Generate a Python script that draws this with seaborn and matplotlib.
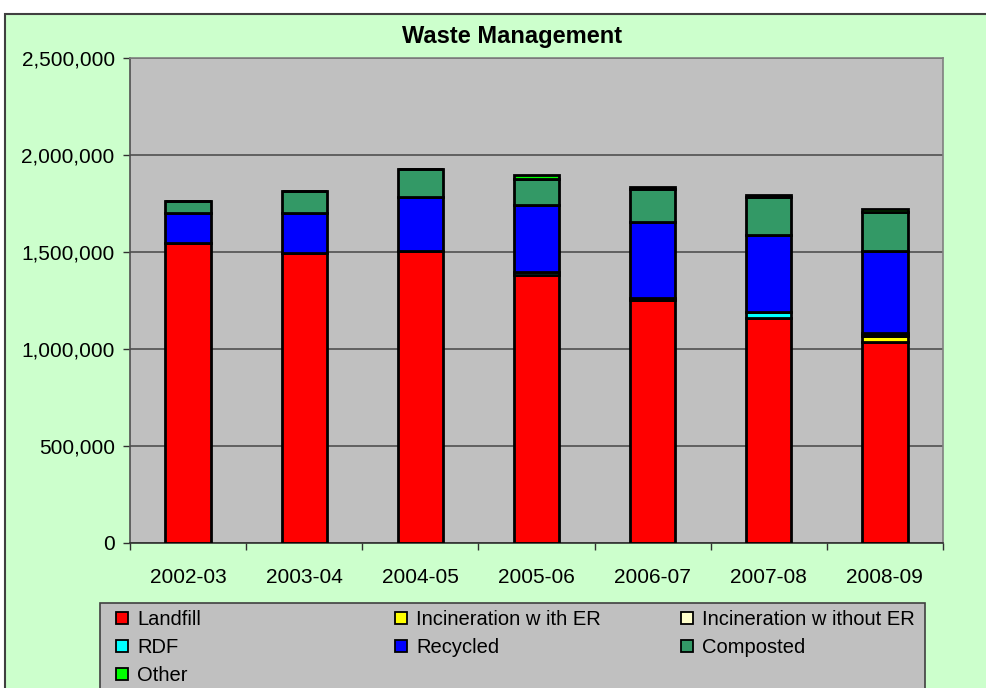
import numpy as np
import pandas as pd
import matplotlib
matplotlib.use('Agg')
import matplotlib.pyplot as plt
import matplotlib.ticker as mticker
from matplotlib.patches import Rectangle
import seaborn as sns

# values (tonnes)
years = ['2002-03', '2003-04', '2004-05', '2005-06', '2006-07', '2007-08', '2008-09']
landfill = [1546000, 1497000, 1507000, 1381000, 1255000, 1161000, 1038000]
incin_er = [0, 0, 0, 0, 0, 0, 30000]
incin_no_er = [0, 0, 0, 0, 0, 0, 5000]
rdf = [0, 0, 0, 15000, 10000, 28000, 10000]
recycled = [155000, 206000, 278000, 348000, 388000, 398000, 422000]
composted = [64000, 112000, 143000, 131000, 170000, 194000, 201000]
other = [0, 0, 0, 22000, 12000, 12000, 15000]

series_names = ['Landfill', 'Incineration w ith ER', 'Incineration w ithout ER',
                'RDF', 'Recycled', 'Composted', 'Other']
series_vals = [landfill, incin_er, incin_no_er, rdf, recycled, composted, other]
colors = ['#FF0000', '#FFFF00', '#FFFFCC', '#00FFFF', '#0000FF', '#339966', '#00FF00']

sns.set_style('white')
plt.rcParams['font.family'] = ['Liberation Sans', 'DejaVu Sans']
plt.rcParams['text.color'] = 'black'
plt.rcParams['xtick.color'] = 'black'
plt.rcParams['ytick.color'] = 'black'

fig = plt.figure(figsize=(9.87, 6.88), dpi=100)
fig.patch.set_facecolor('white')

# chart area background with border
fig.add_artist(Rectangle((5 / 987, -0.01), 1.0, (688 - 14) / 688 + 0.01,
                         transform=fig.transFigure, facecolor='#CCFFCC',
                         edgecolor='#404040', linewidth=1.5, zorder=0))

ax = fig.add_axes([130 / 987, 1 - 543 / 688, 813 / 987, 485 / 688])
ax.set_facecolor('#C0C0C0')

bottom = np.zeros(len(years))
for name, vals, col in zip(series_names, series_vals, colors):
    sns.barplot(x=years, y=vals, bottom=bottom, color=col, width=0.39,
                edgecolor='black', linewidth=2.0, saturation=1, label=name,
                ax=ax, zorder=3)
    bottom = bottom + np.array(vals)
if ax.get_legend() is not None:
    ax.get_legend().remove()

ax.set_ylim(0, 2500000)
ax.set_xlim(-0.5, len(years) - 0.5)
ax.set_yticks(np.arange(0, 2500001, 500000))
ax.yaxis.set_major_formatter(mticker.FuncFormatter(lambda v, p: f'{int(v):,}'))
ax.grid(axis='y', color='#505050', linewidth=1.2, zorder=1)
ax.set_axisbelow(True)

for s in ['top', 'right']:
    ax.spines[s].set_color('#808080')
    ax.spines[s].set_linewidth(1.2)
ax.spines['left'].set_color('#505050')
ax.spines['left'].set_linewidth(1.2)
ax.spines['bottom'].set_color('#303030')
ax.spines['bottom'].set_linewidth(1.2)

ax.tick_params(axis='y', labelsize=15, length=5, width=1, color='#303030',
               labelcolor='black', left=True, pad=6)
ax.tick_params(axis='x', which='major', labelsize=15, length=0, pad=18,
               labelcolor='black')
ax.set_xticks(np.arange(-0.5, len(years), 1), minor=True)
ax.tick_params(axis='x', which='minor', length=5, width=1, color='#303030', bottom=True)
ax.set_xlabel('')
ax.set_ylabel('')

fig.text(512 / 987, 1 - 36 / 688, 'Waste Management', ha='center', va='center',
         fontsize=17, fontweight='bold', color='black')

# legend: grey box cut by the bottom edge, three columns filled row by row
fig.add_artist(Rectangle((100 / 987, -0.02), 825 / 987, (688 - 603) / 688 + 0.02,
                         transform=fig.transFigure, facecolor='#C0C0C0',
                         edgecolor='#404040', linewidth=1.2, zorder=1))
handles, labels = ax.get_legend_handles_labels()
col_x = [116, 395, 681]
for c in range(3):
    idx = list(range(c, len(handles), 3))
    leg = fig.legend([handles[i] for i in idx], [labels[i] for i in idx],
                     loc='upper left', bbox_to_anchor=(col_x[c] / 987, 1 - 610 / 688),
                     fontsize=14.5, frameon=False, handlelength=0.6,
                     handleheight=0.6, handletextpad=0.45, labelspacing=0.45,
                     borderpad=0, borderaxespad=0, labelcolor='black')
    leg.set_zorder(2)
    for h in leg.legend_handles:
        h.set_edgecolor('black')
        h.set_linewidth(1.3)

fig.savefig('out.png', dpi=100, facecolor=fig.get_facecolor())
